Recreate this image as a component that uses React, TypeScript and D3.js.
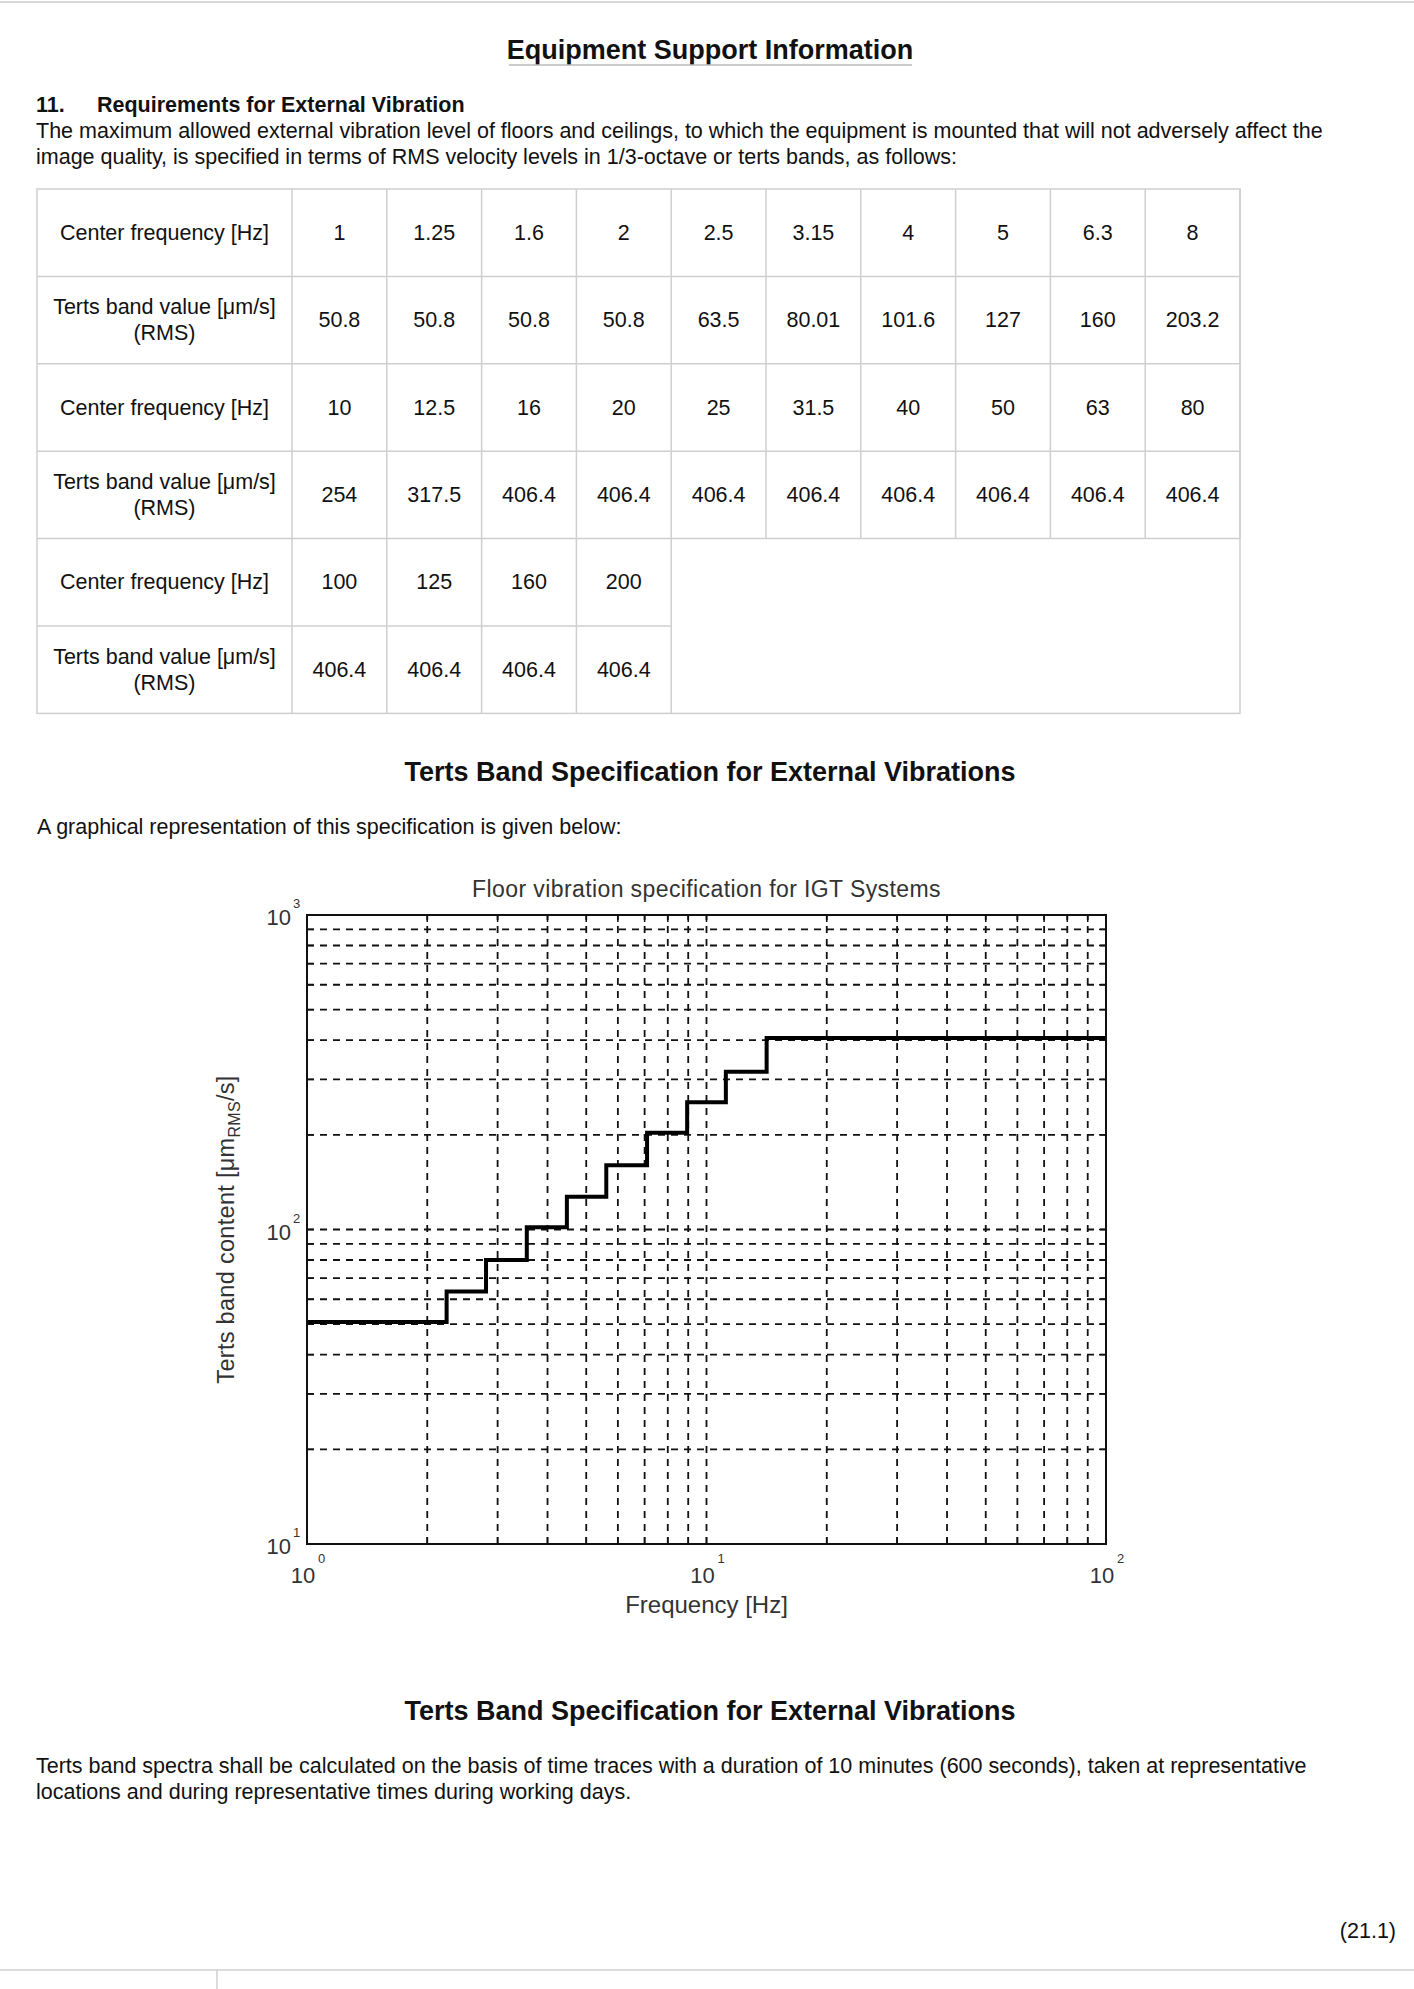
import * as d3 from "d3";

// table data
const centerFreqs = [1, 1.25, 1.6, 2, 2.5, 3.15, 4, 5, 6.3, 8, 10, 12.5, 16, 20, 25, 31.5, 40, 50, 63, 80, 100, 125, 160, 200];
const tertsValues = [
  50.8, 50.8, 50.8, 50.8, 63.5, 80.01, 101.6, 127, 160, 203.2,
  254, 317.5, 406.4, 406.4, 406.4, 406.4, 406.4, 406.4, 406.4, 406.4,
  406.4, 406.4, 406.4, 406.4,
];
const rowGroups = [[0, 10], [10, 20], [20, 24]];

const xTickExps = [0, 1, 2];
const yTickExps = [1, 2, 3];

const W = 1414;
const H = 1989;
const font = "'Liberation Sans', Arial, sans-serif";
const bodySize = 21.5;

// table geometry
const tableLeft = 37;
const firstColW = 255;
const colW = 94.8;
const tableTop = 189;
const rowH = 87.4;

// chart geometry
const plot = { left: 307, right: 1106, top: 915, bottom: 1544 };

const x = d3.scaleLog().domain([1, 100]).range([plot.left, plot.right]);
const y = d3.scaleLog().domain([10, 1000]).range([plot.bottom, plot.top]);

const minorX = d3.range(0, 2).flatMap((e) => d3.range(1, 10).map((m) => m * 10 ** e)).filter((v) => v > 1);
const minorY = d3.range(1, 3).flatMap((e) => d3.range(1, 10).map((m) => m * 10 ** e)).filter((v) => v > 10);

const stepLine = d3
  .line<number>()
  .x((_, i) => x(centerFreqs[i]))
  .y((d) => y(d))
  .curve(d3.curveStep);

function Table() {
  const cells: JSX.Element[] = [];
  const stroke = "#cfcfcf";
  rowGroups.forEach(([a, b], g) => {
    const freqs = centerFreqs.slice(a, b);
    const vals = tertsValues.slice(a, b);
    const rTop = tableTop + g * 2 * rowH;
    const n = freqs.length;
    // label column
    cells.push(
      <text key={`lf${g}`} x={tableLeft + firstColW / 2} y={rTop + rowH / 2 + 7} textAnchor="middle">
        Center frequency [Hz]
      </text>,
      <text key={`lv${g}`} x={tableLeft + firstColW / 2} y={rTop + rowH + rowH / 2 - 6} textAnchor="middle">
        Terts band value [μm/s]
      </text>,
      <text key={`lr${g}`} x={tableLeft + firstColW / 2} y={rTop + rowH + rowH / 2 + 20} textAnchor="middle">
        (RMS)
      </text>
    );
    freqs.forEach((f, i) => {
      const cx = tableLeft + firstColW + colW * i + colW / 2;
      cells.push(
        <text key={`f${g}-${i}`} x={cx} y={rTop + rowH / 2 + 7} textAnchor="middle">{String(f)}</text>,
        <text key={`v${g}-${i}`} x={cx} y={rTop + rowH + rowH / 2 + 7} textAnchor="middle">{String(vals[i])}</text>
      );
    });
    // horizontal lines
    const rowRight = tableLeft + firstColW + colW * n;
    cells.push(
      <line key={`hm${g}`} x1={tableLeft} x2={rowRight} y1={rTop + rowH} y2={rTop + rowH} stroke={stroke} strokeWidth={1.5} />
    );
    if (g > 0) {
      cells.push(
        <line key={`ht${g}`} x1={tableLeft} x2={tableLeft + firstColW + colW * 10} y1={rTop} y2={rTop} stroke={stroke} strokeWidth={1.5} />
      );
    }
    // vertical lines
    for (let i = 0; i <= n; i++) {
      const vx = tableLeft + firstColW + colW * i;
      cells.push(
        <line key={`vl${g}-${i}`} x1={vx} x2={vx} y1={rTop} y2={rTop + 2 * rowH} stroke={stroke} strokeWidth={1.5} />
      );
    }
  });
  const tableRight = tableLeft + firstColW + colW * 10;
  const tableBottom = tableTop + rowH * 6;
  cells.push(
    <rect key="outer" x={tableLeft} y={tableTop} width={tableRight - tableLeft} height={tableBottom - tableTop} fill="none" stroke={stroke} strokeWidth={1.5} />
  );
  return <g fontFamily={font} fontSize={bodySize} fill="#111">{cells}</g>;
}

function Chart() {
  const txt = "#333";
  return (
    <g>
      <defs>
        <clipPath id="plotClip">
          <rect x={plot.left} y={plot.top} width={plot.right - plot.left} height={plot.bottom - plot.top} />
        </clipPath>
      </defs>
      <rect x={plot.left} y={plot.top} width={plot.right - plot.left} height={plot.bottom - plot.top} fill="#fff" />
      {/* grid */}
      <g stroke="#111" strokeWidth={1.8} strokeDasharray="7,6">
        {minorX.map((v) => (
          <line key={`gx${v}`} x1={x(v)} x2={x(v)} y1={plot.bottom} y2={plot.top} />
        ))}
        {minorY.map((v) => (
          <line key={`gy${v}`} x1={plot.left} x2={plot.right} y1={y(v)} y2={y(v)} />
        ))}
      </g>
      {/* ticks */}
      <g stroke="#111" strokeWidth={1.5}>
        {minorX.map((v) => (
          <g key={`tx${v}`}>
            <line x1={x(v)} x2={x(v)} y1={plot.bottom} y2={plot.bottom - 7} />
            <line x1={x(v)} x2={x(v)} y1={plot.top} y2={plot.top + 7} />
          </g>
        ))}
        {minorY.map((v) => (
          <g key={`ty${v}`}>
            <line x1={plot.left} x2={plot.left + 7} y1={y(v)} y2={y(v)} />
            <line x1={plot.right} x2={plot.right - 7} y1={y(v)} y2={y(v)} />
          </g>
        ))}
      </g>
      <path
        d={stepLine(tertsValues) ?? ""}
        fill="none"
        stroke="#000"
        strokeWidth={4}
        clipPath="url(#plotClip)"
      />
      <rect x={plot.left} y={plot.top} width={plot.right - plot.left} height={plot.bottom - plot.top} fill="none" stroke="#111" strokeWidth={2} />
      {/* axis labels */}
      <g fontFamily={font} fill={txt}>
        {yTickExps.map((e) => (
          <g key={`yl${e}`}>
            <text x={291} y={y(10 ** e) + 10} fontSize={22} textAnchor="end">10</text>
            <text x={293} y={y(10 ** e) - 7} fontSize={13}>{e}</text>
          </g>
        ))}
        {xTickExps.map((e) => (
          <g key={`xl${e}`}>
            <text x={x(10 ** e) - 4} y={plot.bottom + 39} fontSize={22} textAnchor="middle">10</text>
            <text x={x(10 ** e) + 11} y={plot.bottom + 19} fontSize={13}>{e}</text>
          </g>
        ))}
        <text x={(plot.left + plot.right) / 2} y={plot.bottom + 69} fontSize={24} textAnchor="middle">
          Frequency [Hz]
        </text>
        <text x={(plot.left + plot.right) / 2} y={897} fontSize={23} textAnchor="middle" letterSpacing={0.4}>
          Floor vibration specification for IGT Systems
        </text>
        <text
          transform={`translate(234,${(plot.top + plot.bottom) / 2}) rotate(-90)`}
          fontSize={23.5}
          textAnchor="middle"
          letterSpacing={0.3}
        >
          Terts  band content [μm
          <tspan fontSize={16} dy={6}>RMS</tspan>
          <tspan dy={-6}>/s]</tspan>
        </text>
      </g>
    </g>
  );
}

export default function App() {
  return (
    <div style={{ position: "absolute", left: 0, top: 0 }}>
      <svg width={W} height={H} style={{ display: "block", background: "#fff" }}>
        <line x1={0} x2={W} y1={2} y2={2} stroke="#d8d8d8" strokeWidth={2} />
        <g fontFamily={font} fill="#111">
          <text x={710} y={59} fontSize={27} fontWeight="bold" textAnchor="middle">
            Equipment Support Information
          </text>
          <line x1={509} x2={912} y1={65} y2={65} stroke="#bbb" strokeWidth={1.5} />
          <text x={36} y={112} fontSize={bodySize} fontWeight="bold">11.</text>
          <text x={97} y={112} fontSize={bodySize} fontWeight="bold">Requirements for External Vibration</text>
          <text x={36} y={138} fontSize={bodySize}>
            The maximum allowed external vibration level of floors and ceilings, to which the equipment is mounted that will not adversely affect the
          </text>
          <text x={36} y={164} fontSize={bodySize}>
            image quality, is specified in terms of RMS velocity levels in 1/3-octave or terts bands, as follows:
          </text>
        </g>
        <Table />
        <g fontFamily={font} fill="#111">
          <text x={710} y={781} fontSize={27} fontWeight="bold" textAnchor="middle">
            Terts Band Specification for External Vibrations
          </text>
          <text x={37} y={834} fontSize={bodySize}>
            A graphical representation of this specification is given below:
          </text>
        </g>
        <Chart />
        <g fontFamily={font} fill="#111">
          <text x={710} y={1720} fontSize={27} fontWeight="bold" textAnchor="middle">
            Terts Band Specification for External Vibrations
          </text>
          <text x={36} y={1773} fontSize={bodySize}>
            Terts band spectra shall be calculated on the basis of time traces with a duration of 10 minutes (600 seconds), taken at representative
          </text>
          <text x={36} y={1799} fontSize={bodySize}>
            locations and during representative times during working days.
          </text>
          <text x={1396} y={1938} fontSize={bodySize} textAnchor="end">(21.1)</text>
        </g>
        <line x1={0} x2={W} y1={1970} y2={1970} stroke="#d0d0d0" strokeWidth={1.5} />
        <line x1={217} x2={217} y1={1970} y2={H} stroke="#d0d0d0" strokeWidth={1.5} />
      </svg>
    </div>
  );
}
